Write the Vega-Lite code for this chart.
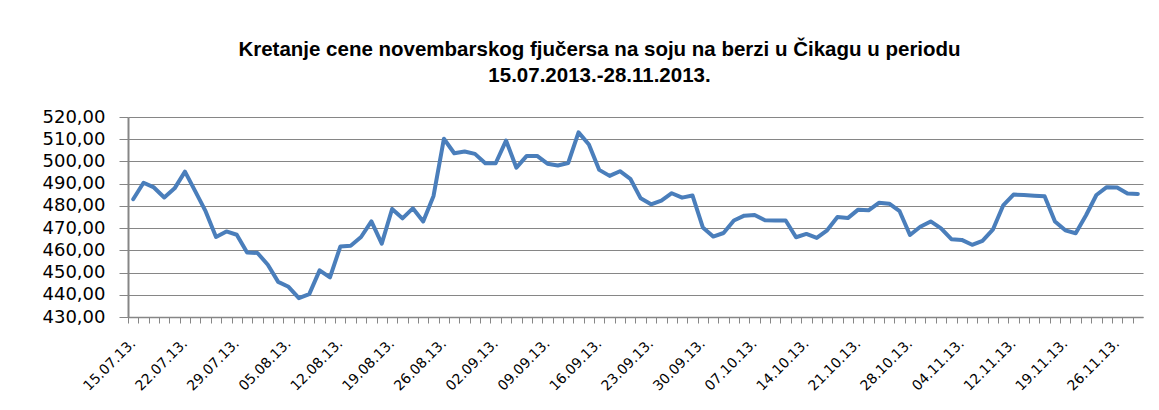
{
  "$schema": "https://vega.github.io/schema/vega-lite/v6.json",
  "autosize": {"type": "none"},
  "width": 1015,
  "height": 200,
  "padding": {"left": 128, "top": 117, "right": 16, "bottom": 93},
  "background": "white",
  "title": {
    "text": ["Kretanje cene novembarskog fjučersa na soju na berzi u Čikagu u periodu", "15.07.2013.-28.11.2013."],
    "anchor": "middle",
    "frame": "group",
    "dx": -36,
    "offset": 22,
    "font": "Liberation Sans",
    "fontSize": 20.5,
    "fontWeight": "bold",
    "color": "#000000",
    "lineHeight": 26
  },
  "config": {
    "view": {"stroke": null},
    "axis": {"labelFont": "DejaVu Sans", "labelColor": "#000000"}
  },
  "data": {
    "values": [
      {"d": "15.07.13.", "v": 483.0}, {"d": "16.07.13.", "v": 490.4}, {"d": "17.07.13.", "v": 488.3}, {"d": "18.07.13.", "v": 483.8}, {"d": "19.07.13.", "v": 487.9},
      {"d": "22.07.13.", "v": 495.4}, {"d": "23.07.13.", "v": 486.5}, {"d": "24.07.13.", "v": 477.5}, {"d": "25.07.13.", "v": 466.0}, {"d": "26.07.13.", "v": 468.5},
      {"d": "29.07.13.", "v": 467.0}, {"d": "30.07.13.", "v": 459.0}, {"d": "31.07.13.", "v": 458.8}, {"d": "01.08.13.", "v": 453.5}, {"d": "02.08.13.", "v": 445.8},
      {"d": "05.08.13.", "v": 443.6}, {"d": "06.08.13.", "v": 438.5}, {"d": "07.08.13.", "v": 440.3}, {"d": "08.08.13.", "v": 451.0}, {"d": "09.08.13.", "v": 447.8},
      {"d": "12.08.13.", "v": 461.7}, {"d": "13.08.13.", "v": 462.1}, {"d": "14.08.13.", "v": 466.0}, {"d": "15.08.13.", "v": 473.0}, {"d": "16.08.13.", "v": 463.0},
      {"d": "19.08.13.", "v": 478.6}, {"d": "20.08.13.", "v": 474.4}, {"d": "21.08.13.", "v": 478.9}, {"d": "22.08.13.", "v": 473.0}, {"d": "23.08.13.", "v": 484.5},
      {"d": "26.08.13.", "v": 510.2}, {"d": "27.08.13.", "v": 503.7}, {"d": "28.08.13.", "v": 504.5}, {"d": "29.08.13.", "v": 503.4}, {"d": "30.08.13.", "v": 499.2},
      {"d": "02.09.13.", "v": 499.2}, {"d": "03.09.13.", "v": 509.4}, {"d": "04.09.13.", "v": 497.2}, {"d": "05.09.13.", "v": 502.5}, {"d": "06.09.13.", "v": 502.5},
      {"d": "09.09.13.", "v": 499.0}, {"d": "10.09.13.", "v": 498.2}, {"d": "11.09.13.", "v": 499.3}, {"d": "12.09.13.", "v": 513.1}, {"d": "13.09.13.", "v": 507.6},
      {"d": "16.09.13.", "v": 496.2}, {"d": "17.09.13.", "v": 493.5}, {"d": "18.09.13.", "v": 495.6}, {"d": "19.09.13.", "v": 492.2}, {"d": "20.09.13.", "v": 483.4},
      {"d": "23.09.13.", "v": 480.7}, {"d": "24.09.13.", "v": 482.4}, {"d": "25.09.13.", "v": 485.7}, {"d": "26.09.13.", "v": 483.7}, {"d": "27.09.13.", "v": 484.7},
      {"d": "30.09.13.", "v": 470.3}, {"d": "01.10.13.", "v": 466.2}, {"d": "02.10.13.", "v": 467.8}, {"d": "03.10.13.", "v": 473.4}, {"d": "04.10.13.", "v": 475.6},
      {"d": "07.10.13.", "v": 475.9}, {"d": "08.10.13.", "v": 473.5}, {"d": "09.10.13.", "v": 473.4}, {"d": "10.10.13.", "v": 473.4}, {"d": "11.10.13.", "v": 465.9},
      {"d": "14.10.13.", "v": 467.4}, {"d": "15.10.13.", "v": 465.6}, {"d": "16.10.13.", "v": 469.0}, {"d": "17.10.13.", "v": 475.0}, {"d": "18.10.13.", "v": 474.5},
      {"d": "21.10.13.", "v": 478.3}, {"d": "22.10.13.", "v": 478.0}, {"d": "23.10.13.", "v": 481.4}, {"d": "24.10.13.", "v": 481.0}, {"d": "25.10.13.", "v": 477.6},
      {"d": "28.10.13.", "v": 466.9}, {"d": "29.10.13.", "v": 470.6}, {"d": "30.10.13.", "v": 473.0}, {"d": "31.10.13.", "v": 469.9}, {"d": "01.11.13.", "v": 465.0},
      {"d": "04.11.13.", "v": 464.7}, {"d": "05.11.13.", "v": 462.5}, {"d": "06.11.13.", "v": 464.3}, {"d": "07.11.13.", "v": 469.3}, {"d": "08.11.13.", "v": 480.2},
      {"d": "12.11.13.", "v": 485.1}, {"d": "13.11.13.", "v": 484.9}, {"d": "14.11.13.", "v": 484.6}, {"d": "15.11.13.", "v": 484.3},
      {"d": "18.11.13.", "v": 473.0}, {"d": "19.11.13.", "v": 469.0}, {"d": "20.11.13.", "v": 467.7}, {"d": "21.11.13.", "v": 475.8}, {"d": "22.11.13.", "v": 484.9},
      {"d": "25.11.13.", "v": 488.4}, {"d": "26.11.13.", "v": 488.3}, {"d": "27.11.13.", "v": 485.6}, {"d": "28.11.13.", "v": 485.4}
    ]
  },
  "mark": {"type": "line", "color": "#4a7ebb", "strokeWidth": 4, "strokeJoin": "round", "strokeCap": "round"},
  "encoding": {
    "x": {
      "field": "d",
      "type": "nominal",
      "sort": null,
      "scale": {"type": "point", "padding": 0.5},
      "axis": {
        "title": null,
        "labelAngle": -45,
        "labelAlign": "right",
        "labelBaseline": "middle",
        "labelFontSize": 14,
        "labelPadding": 18,
        "labelOverlap": false,
        "labelExpr": "indexof(['15.07.13.','22.07.13.','29.07.13.','05.08.13.','12.08.13.','19.08.13.','26.08.13.','02.09.13.','09.09.13.','16.09.13.','23.09.13.','30.09.13.','07.10.13.','14.10.13.','21.10.13.','28.10.13.','04.11.13.','12.11.13.','19.11.13.','26.11.13.'], datum.value) >= 0 ? datum.value : ''",
        "tickOffset": -5.18,
        "labelOffset": 5,
        "tickSize": 6,
        "tickColor": "#868686",
        "domainColor": "#868686",
        "domainWidth": 1.5,
        "grid": false
      }
    },
    "y": {
      "field": "v",
      "type": "quantitative",
      "scale": {"domain": [430, 520], "nice": false, "zero": false},
      "axis": {
        "title": null,
        "values": [430, 440, 450, 460, 470, 480, 490, 500, 510, 520],
        "labelExpr": "replace(format(datum.value, '.2f'), '.', ',')",
        "labelFontSize": 18,
        "labelPadding": 14,
        "tickSize": 9,
        "tickColor": "#868686",
        "domainColor": "#868686",
        "domainWidth": 2,
        "gridColor": "#868686",
        "gridWidth": 1.2,
        "gridOpacity": 1
      }
    }
  }
}
